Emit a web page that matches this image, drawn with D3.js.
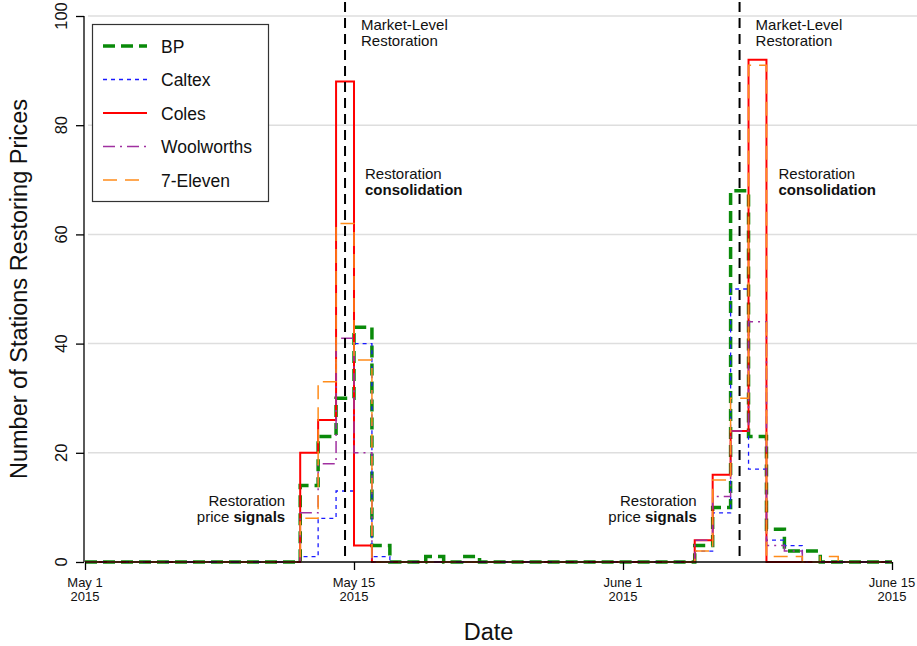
<!DOCTYPE html>
<html>
<head>
<meta charset="utf-8">
<script src="https://cdn.jsdelivr.net/npm/d3@7"></script>
<style>
  body { margin: 0; background: #fff; }
  text { font-family: "Liberation Sans", Arial, Helvetica, sans-serif; fill: #111; }
</style>
</head>
<body>
<div id="chart"></div>
<script>
// day index 0 = May 1 ... 45 = June 15 (as plotted)
let dayIndex = [0, 1, 2, 3, 4, 5, 6, 7, 8, 9, 10, 11, 12, 13, 14, 15, 16, 17, 18, 19, 20, 21, 22,
    23, 24, 25, 26, 27, 28, 29, 30, 31, 32, 33, 34, 35, 36, 37, 38, 39, 40, 41, 42, 43, 44, 45];

let bp = [0, 0, 0, 0, 0, 0, 0, 0, 0, 0, 0, 0, 14, 23, 30, 43, 3, 0, 0, 1, 0, 1, 0,
    0, 0, 0, 0, 0, 0, 0, 0, 0, 0, 0, 3, 10, 68, 23, 6, 2, 2, 0, 0, 0, 0, 0];
let caltex = [0, 0, 0, 0, 0, 0, 0, 0, 0, 0, 0, 0, 1, 8, 13, 40, 1, 0, 0, 0, 0, 0, 0,
    0, 0, 0, 0, 0, 0, 0, 0, 0, 0, 0, 2, 9, 50, 17, 4, 3, 0, 0, 0, 0, 0, 0];
let coles = [0, 0, 0, 0, 0, 0, 0, 0, 0, 0, 0, 0, 20, 26, 88, 3, 0, 0, 0, 0, 0, 0, 0,
    0, 0, 0, 0, 0, 0, 0, 0, 0, 0, 0, 4, 16, 24, 92, 0, 0, 0, 0, 0, 0, 0, 0];
let woolworths = [0, 0, 0, 0, 0, 0, 0, 0, 0, 0, 0, 0, 9, 18, 41, 20, 0, 0, 0, 0, 0, 0, 0,
    0, 0, 0, 0, 0, 0, 0, 0, 0, 0, 0, 4, 12, 24, 44, 3, 2, 0, 0, 0, 0, 0, 0];
let sevenEleven = [0, 0, 0, 0, 0, 0, 0, 0, 0, 0, 0, 0, 8, 33, 62, 37, 0, 0, 0, 0, 0, 0, 0,
    0, 0, 0, 0, 0, 0, 0, 0, 0, 0, 0, 2, 15, 30, 91, 1, 1, 0, 1, 0, 0, 0, 0];

let xTickPos = [0, 15, 30, 45];
let xTickLabels = [["May 1", "2015"], ["May 15", "2015"], ["June 1", "2015"], ["June 15", "2015"]];
let yTicks = [0, 20, 40, 60, 80, 100];
let restorationDays = [14.5, 36.5];

let series = [
    { name: "BP", values: bp, color: "#0a8a0a", width: 3.5, dash: "12,6" },
    { name: "Caltex", values: caltex, color: "#1a1aff", width: 1.3, dash: "4,4" },
    { name: "Coles", values: coles, color: "#ff0000", width: 2, dash: null },
    { name: "Woolworths", values: woolworths, color: "#a030a0", width: 1.5, dash: "12,5,2,5" },
    { name: "7-Eleven", values: sevenEleven, color: "#ff8c1a", width: 1.5, dash: "14,8" }
];

let w = 917, h = 646;
let padLeft = 85, padRight = 892, padTop = 16, padBottom = 562;

let svg = d3.select("#chart").append("svg")
    .attr("width", w)
    .attr("height", h);

let xScale = d3.scaleLinear().domain([0, 45]).range([padLeft, padRight]);
let yScale = d3.scaleLinear().domain([0, 100]).range([padBottom, padTop]);

// gridlines
svg.append("g").selectAll("line")
    .data(yTicks.filter(function (d) { return d > 0; }))
    .enter()
    .append("line")
    .attr("x1", padLeft + 3).attr("x2", w)
    .attr("y1", function (d) { return yScale(d); })
    .attr("y2", function (d) { return yScale(d); })
    .style("stroke", "#dedede")
    .style("stroke-width", 1.5);

// series step lines
let line = d3.line()
    .x(function (d, i) { return xScale(dayIndex[i]); })
    .y(function (d) { return yScale(d); })
    .curve(d3.curveStepAfter);

series.forEach(function (s) {
    svg.append("path")
        .datum(s.values)
        .attr("d", line)
        .attr("fill", "none")
        .style("stroke", s.color)
        .style("stroke-width", s.width)
        .style("stroke-dasharray", s.dash);
});

// market-level restoration lines
svg.selectAll(".restore")
    .data(restorationDays)
    .enter()
    .append("line")
    .attr("class", "restore")
    .attr("x1", function (d) { return xScale(d); })
    .attr("x2", function (d) { return xScale(d); })
    .attr("y1", yScale(100) - 14)
    .attr("y2", yScale(0))
    .style("stroke", "#000")
    .style("stroke-width", 2)
    .style("stroke-dasharray", "10,6");

// axes
let xAxis = d3.axisBottom(xScale).tickValues(xTickPos).tickSize(8).tickFormat("");
svg.append("g")
    .attr("transform", "translate(0," + padBottom + ")")
    .call(xAxis)
    .call(function (g) { g.select(".domain").attr("d", "M" + padLeft + ",0H" + padRight).style("stroke-width", 1.3); })
    .call(function (g) { g.selectAll(".tick line").style("stroke-width", 1.3); });

xTickPos.forEach(function (d, i) {
    let t = svg.append("text")
        .attr("x", xScale(d))
        .attr("y", 587)
        .style("text-anchor", "middle")
        .style("font-size", "13px");
    t.append("tspan").attr("x", xScale(d)).text(xTickLabels[i][0]);
    t.append("tspan").attr("x", xScale(d)).attr("dy", 14).text(xTickLabels[i][1]);
});

let yAxis = d3.axisLeft(yScale).tickValues(yTicks).tickSize(8).tickFormat("");
svg.append("g")
    .attr("transform", "translate(" + (padLeft - 1) + ",0)")
    .call(yAxis)
    .call(function (g) { g.select(".domain").attr("d", "M0," + padBottom + "V" + padTop).style("stroke-width", 1.3); })
    .call(function (g) { g.selectAll(".tick line").style("stroke-width", 1.3); });

yTicks.forEach(function (d) {
    svg.append("text")
        .attr("transform", "translate(67," + yScale(d) + ") rotate(-90)")
        .style("text-anchor", "middle")
        .style("font-size", "16.5px")
        .text(d);
});

// axis titles
svg.append("text")
    .attr("transform", "translate(27," + ((padTop + padBottom) / 2) + ") rotate(-90)")
    .style("text-anchor", "middle")
    .style("font-size", "23.5px")
    .text("Number of Stations Restoring Prices");

svg.append("text")
    .attr("x", (padLeft + padRight) / 2)
    .attr("y", 640)
    .style("text-anchor", "middle")
    .style("font-size", "23.5px")
    .text("Date");

// annotations
function twoLine(x, y, anchor, first, second, bold) {
    let t = svg.append("text")
        .attr("x", x).attr("y", y)
        .style("text-anchor", anchor)
        .style("font-size", "15px");
    t.append("tspan").attr("x", x).text(first);
    let t2 = t.append("tspan").attr("x", x).attr("dy", 16.5);
    if (bold) {
        t2.append("tspan").text(second[0]);
        t2.append("tspan").style("font-weight", "bold").text(second[1]);
    } else {
        t2.text(second);
    }
}

restorationDays.forEach(function (d) {
    twoLine(xScale(d) + 16, 29.5, "start", "Market-Level", "Restoration", false);
});
twoLine(xScale(15) + 11, 178.5, "start", "Restoration", ["", "consolidation"], true);
twoLine(xScale(38) + 12, 178.5, "start", "Restoration", ["", "consolidation"], true);
twoLine(xScale(12) - 15, 505.5, "end", "Restoration", ["price ", "signals"], true);
twoLine(xScale(34) + 2, 505.5, "end", "Restoration", ["price ", "signals"], true);

// legend
let legend = svg.append("g");
legend.append("rect")
    .attr("x", 92.5).attr("y", 24.5)
    .attr("width", 176).attr("height", 177)
    .attr("fill", "#fff")
    .style("stroke", "#333")
    .style("stroke-width", 1.2);

series.forEach(function (s, i) {
    let ly = 46 + i * 33.5;
    legend.append("line")
        .attr("x1", 103).attr("x2", 147)
        .attr("y1", ly).attr("y2", ly)
        .style("stroke", s.color)
        .style("stroke-width", s.width)
        .style("stroke-dasharray", s.dash);
    legend.append("text")
        .attr("x", 161).attr("y", ly + 6.5)
        .style("font-size", "17.5px")
        .text(s.name);
});
</script>
</body>
</html>
